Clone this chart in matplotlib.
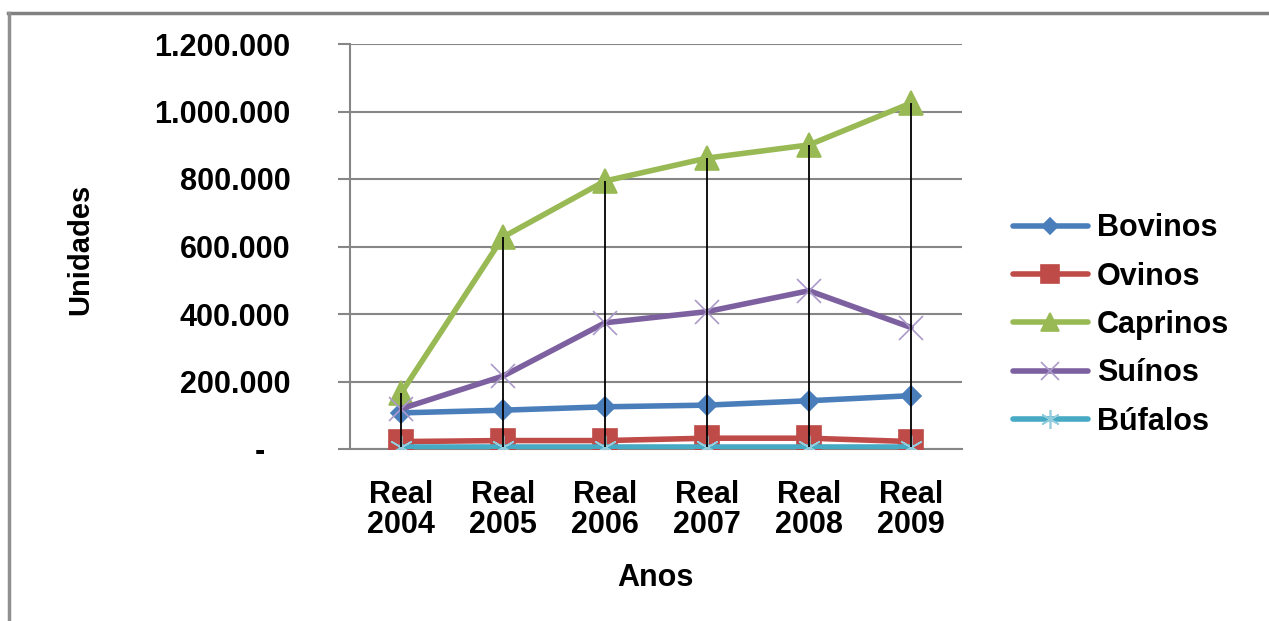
import matplotlib
matplotlib.use('Agg')
import matplotlib.pyplot as plt
from matplotlib.lines import Line2D
from matplotlib.ticker import FuncFormatter
import numpy as np

plt.rcParams['font.family'] = ['Liberation Sans', 'DejaVu Sans']
plt.rcParams['font.weight'] = 'bold'

# Data
categories = ['Real\n2004', 'Real\n2005', 'Real\n2006', 'Real\n2007', 'Real\n2008', 'Real\n2009']
bovinos = [107000, 115000, 125000, 130000, 143000, 158000]
ovinos = [22000, 25000, 25000, 32000, 32000, 22000]
caprinos = [165000, 628000, 794000, 862000, 901000, 1025000]
suinos = [119000, 216000, 374000, 407000, 469000, 360000]
bufalos = [5000, 5000, 5000, 5000, 5000, 5000]
y_ticks = [0, 200000, 400000, 600000, 800000, 1000000, 1200000]

fig = plt.figure(figsize=(12.69, 6.21), dpi=100)
ax = fig.add_axes([350 / 1269, 1 - 449 / 621, 612 / 1269, 405 / 621])

x = np.arange(len(categories))
grid_gray = '#868686'
fs = 22

# Series: (label, values, line colour, marker, marker size, marker face, marker edge)
series = [
    ('Bovinos', bovinos, '#4A7EBB', 'D', 10, '#4A7EBB', '#4A7EBB'),
    ('Ovinos', ovinos, '#BE4B48', 's', 17, '#BE4B48', '#BE4B48'),
    ('Caprinos', caprinos, '#98B954', '^', 17, '#98B954', '#98B954'),
    ('Suínos', suinos, '#7D60A0', 'x', 17, '#AC9ACB', '#AC9ACB'),
    ('Búfalos', bufalos, '#46AAC5', (6, 2, 0), 17, '#93CDDD', '#93CDDD'),
]

for label, vals, col, mk, ms, mfc, mec in series:
    ax.plot(x, vals, color=col, lw=4, marker=mk, markersize=ms,
            markerfacecolor=mfc, markeredgecolor=mec, markeredgewidth=1.2,
            label=label, zorder=3, solid_capstyle='round')

# high-low lines
all_vals = np.array([bovinos, ovinos, caprinos, suinos, bufalos])
ax.vlines(x, all_vals.min(axis=0), all_vals.max(axis=0), color='black', lw=1.3, zorder=4)

ax.set_xlim(-0.5, len(categories) - 0.5)
ax.set_ylim(0, 1200000)
ax.set_yticks(y_ticks)


def fmt(v, pos):
    if v == 0:
        return '-   '
    return f'{int(v):,}'.replace(',', '.')


ax.yaxis.set_major_formatter(FuncFormatter(fmt))
ax.set_xticks(x)
ax.set_xticklabels(categories, linespacing=1.0)
ax.tick_params(axis='y', length=9, width=1.5, color=grid_gray, pad=34, labelsize=fs)
ax.tick_params(axis='x', length=0, pad=22, labelsize=fs)
for t in ax.get_xticklabels() + ax.get_yticklabels():
    t.set_fontweight('bold')

ax.grid(axis='y', color=grid_gray, lw=1.5)
ax.set_axisbelow(True)
for s in ['top', 'right']:
    ax.spines[s].set_visible(False)
for s in ['left', 'bottom']:
    ax.spines[s].set_color(grid_gray)
    ax.spines[s].set_linewidth(1.5)

fig.text(655 / 1269, 1 - 578 / 621, 'Anos', ha='center', va='center',
         fontsize=fs, fontweight='bold')
fig.text(80 / 1269, 1 - 249 / 621, 'Unidades', ha='center', va='center',
         rotation=90, fontsize=21, fontweight='bold')

leg = fig.legend(loc='center left', bbox_to_anchor=(1013 / 1269, 1 - 325 / 621),
                 frameon=False, handlelength=2.45, handletextpad=0.3,
                 labelspacing=0.6, borderpad=0, borderaxespad=0, markerscale=0.8,
                 prop={'weight': 'bold', 'size': fs})

# outer frame (cropped chart border)
fig.add_artist(Line2D([8 / 1269, 1], [1 - 13 / 621, 1 - 13 / 621], color='#808080', lw=2.5))
fig.add_artist(Line2D([9 / 1269, 9 / 1269], [0, 1 - 13 / 621], color='#909090', lw=2.5))

fig.savefig('out.png', dpi=100)
